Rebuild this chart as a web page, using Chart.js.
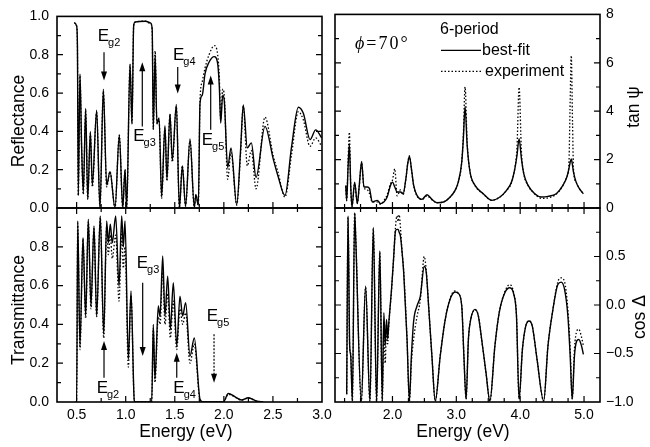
<!DOCTYPE html>
<html><head><meta charset="utf-8">
<script src="https://cdn.jsdelivr.net/npm/chart.js@4.4.1/dist/chart.umd.min.js"></script>
<style>
html,body{margin:0;padding:0;background:#fff;}
#wrap{position:relative;width:650px;height:447px;overflow:hidden;font-family:"Liberation Sans",Arial,sans-serif;color:#000;background:#fff;}
canvas{position:absolute;left:0;top:0;}
.t{position:absolute;font-size:17.5px;white-space:nowrap;line-height:1;}
.rot{transform:translate(-50%,-50%) rotate(-90deg);}
.hc{transform:translate(-50%,-50%);}
</style></head>
<body><div id="wrap">
<canvas id="c1" width="650" height="447"></canvas>
<canvas id="c2" width="650" height="447"></canvas>
<canvas id="c3" width="650" height="447"></canvas>
<canvas id="c4" width="650" height="447"></canvas>
<div class="t rot" style="left:18.5px;top:121px">Reflectance</div>
<div class="t rot" style="left:18.5px;top:310px">Transmittance</div>
<div class="t hc" style="left:186px;top:432px">Energy (eV)</div>
<div class="t hc" style="left:463px;top:432px">Energy (eV)</div>
<div class="t rot" style="left:634px;top:107px">tan ψ</div>
<div class="t rot" style="left:640px;top:317px">cos Δ</div>
</div>
<script>
// ---------- data ----------
const reflE   = [0.476,0.500,0.508,0.517,0.534,0.551,0.568,0.592,0.613,0.640,0.660,0.704,0.738,0.772,0.806,0.840,0.891,0.935,0.970,0.993,1.010,1.044,1.064,1.081,1.095,1.200,1.255,1.270,1.281,1.300,1.318,1.340,1.366,1.400,1.420,1.451,1.475,1.516,1.547,1.577,1.610,1.655,1.699,1.715,1.740,1.757,1.780,1.808,1.849,1.903,1.937,1.954,1.968,1.988,2.005,2.039,2.073,2.131,2.170,2.198,2.239,2.280,2.328,2.419,2.504,2.550,2.623,2.690,2.759,2.810,2.878,2.936,2.997];
const reflFit = [0.967,0.95,0.85,0.065,0.70,0.32,0.08,0.52,0.048,0.40,0.12,0.51,0.0,0.62,0.12,0.19,0.0,0.38,0.0,0.20,0.0,0.75,0.44,0.95,0.97,0.975,0.965,0.93,0.41,0.80,0.44,0.47,0.057,0.43,0.15,0.49,0.25,0.54,0.0,0.22,0.01,0.36,0.005,0.07,0.014,0.546,0.589,0.70,0.761,0.790,0.753,0.632,0.443,0.589,0.555,0.211,0.314,0.017,0.30,0.538,0.314,0.340,0.160,0.426,0.254,0.17,0.065,0.32,0.526,0.494,0.357,0.408,0.366];
const reflExp = [0.967,0.95,0.85,0.065,0.69,0.30,0.07,0.51,0.045,0.39,0.11,0.50,0.0,0.61,0.11,0.19,0.0,0.38,0.0,0.20,0.0,0.75,0.44,0.95,0.97,0.975,0.96,0.93,0.41,0.82,0.44,0.46,0.05,0.42,0.14,0.49,0.24,0.53,0.0,0.22,0.01,0.35,0.005,0.07,0.014,0.56,0.66,0.73,0.80,0.847,0.80,0.68,0.46,0.62,0.58,0.15,0.29,0.015,0.28,0.53,0.22,0.30,0.10,0.474,0.27,0.19,0.057,0.28,0.503,0.46,0.322,0.366,0.322];

const transE   = [0.490,0.500,0.511,0.534,0.565,0.592,0.619,0.646,0.677,0.704,0.741,0.776,0.806,0.823,0.843,0.863,0.898,0.932,0.959,0.976,0.993,1.027,1.054,1.088,1.100,1.265,1.281,1.298,1.332,1.350,1.377,1.400,1.428,1.455,1.485,1.520,1.553,1.580,1.611,1.655,1.699,1.757,1.790,1.995,2.045,2.114,2.180,2.249,2.330,2.400];
const transFit = [0,0,0.933,0.289,0.847,0.443,0.942,0.495,0.907,0.443,0.959,0.349,0.933,0.821,0.916,0.82,0.959,0.598,0.959,0.80,0.933,0.22,0.572,0.005,0,0,0.40,0.117,0.495,0.44,0.753,0.443,0.649,0.374,0.615,0.289,0.546,0.443,0.512,0.237,0.33,0.014,0,0,0.044,0.027,0.01,0.022,0.005,0];
const transExp = [0,0,0.92,0.27,0.84,0.43,0.93,0.48,0.90,0.44,0.95,0.33,0.90,0.76,0.86,0.74,0.86,0.52,0.88,0.69,0.80,0.18,0.55,0.005,0,0,0.38,0.10,0.44,0.40,0.68,0.40,0.56,0.33,0.52,0.27,0.48,0.40,0.46,0.20,0.30,0.01,0,0,0.04,0.025,0.01,0.02,0.005,0];

const tanE   = [1.268,1.283,1.304,1.325,1.346,1.366,1.408,1.450,1.480,1.517,1.553,1.606,1.640,1.684,1.762,1.814,1.865,1.917,1.969,2.000,2.036,2.073,2.125,2.166,2.210,2.239,2.265,2.297,2.332,2.384,2.462,2.540,2.618,2.696,2.800,2.903,2.980,3.030,3.085,3.110,3.137,3.170,3.215,3.293,3.422,3.553,3.682,3.786,3.864,3.916,3.950,3.983,4.020,4.056,4.124,4.228,4.332,4.436,4.565,4.669,4.731,4.763,4.780,4.800,4.820,4.835,4.876,4.927,4.990];
const tanFit = [0.935,0.317,1.62,2.65,0.935,0.041,1.07,0.18,0.935,1.924,0.866,0.866,0.80,0.247,0.316,0.18,0.247,0.454,0.935,1.07,0.866,0.66,0.66,0.59,1.21,1.83,2.14,1.62,0.935,0.52,0.357,0.55,0.357,0.22,0.247,0.454,0.73,1.07,1.90,2.86,4.2,2.58,1.48,0.935,0.59,0.316,0.454,0.73,1.07,1.62,2.17,2.86,2.03,1.42,0.935,0.59,0.454,0.48,0.59,0.935,1.28,1.62,1.85,2.03,1.75,1.48,1.07,0.80,0.59];
const tanExp = [0.90,0.30,1.9,3.13,0.9,0.05,1.0,0.2,0.9,1.85,0.85,0.75,0.60,0.25,0.25,0.15,0.3,0.55,1.0,1.15,1.62,0.5,0.75,0.55,1.2,1.85,2.15,1.6,0.93,0.5,0.35,0.5,0.34,0.22,0.25,0.45,0.72,1.05,1.9,3.0,5.0,2.7,1.5,0.93,0.58,0.32,0.45,0.72,1.05,1.65,2.5,4.99,2.3,1.42,0.93,0.58,0.40,0.42,0.57,0.93,1.3,1.8,4.0,6.3,3.5,1.6,1.07,0.80,0.59];

const cosE   = [1.283,1.304,1.330,1.346,1.372,1.408,1.425,1.512,1.579,1.647,1.700,1.751,1.802,1.840,1.865,1.886,1.907,1.925,1.943,1.985,2.020,2.047,2.070,2.088,2.105,2.125,2.150,2.176,2.228,2.265,2.296,2.332,2.384,2.436,2.498,2.530,2.566,2.618,2.670,2.748,2.826,2.903,2.980,3.030,3.085,3.120,3.153,3.189,3.225,3.293,3.345,3.397,3.465,3.526,3.604,3.671,3.760,3.838,3.900,3.942,3.983,4.035,4.087,4.139,4.190,4.264,4.368,4.435,4.513,4.590,4.643,4.695,4.747,4.783,4.815,4.850,4.886,4.918,4.960,4.990];
const cosFit = [-0.921,0.918,-0.42,-0.52,-0.99,0.95,0.68,-0.99,0.196,-0.99,0.80,-0.99,0.557,-0.99,-0.08,-0.42,-0.15,-0.35,-0.18,0.16,0.505,0.763,0.78,0.78,0.75,0.71,0.55,0.333,-0.35,-0.99,-0.53,-0.165,-0.01,0.09,0.40,0.33,-0.01,-0.53,-0.99,-0.526,-0.15,0.06,0.134,0.12,-0.01,-0.55,-0.97,-0.355,-0.15,-0.045,-0.114,-0.355,-0.70,-0.99,-0.423,-0.08,0.127,0.178,0.11,-0.114,-0.97,-0.457,-0.217,-0.165,-0.217,-0.56,-0.99,-0.423,-0.045,0.212,0.236,0.16,-0.114,-0.526,-0.97,-0.526,-0.37,-0.355,-0.42,-0.51];
const cosExp = [-0.92,0.90,-0.45,-0.50,-0.99,0.95,0.70,-0.99,0.18,-0.99,0.78,-0.99,0.54,-0.99,-0.25,-0.60,-0.20,-0.40,-0.20,0.15,0.50,0.80,0.92,0.86,0.93,0.80,0.55,0.35,-0.35,-0.99,-0.60,-0.35,-0.12,0.05,0.50,0.35,-0.01,-0.53,-0.99,-0.52,-0.15,0.07,0.145,0.12,-0.01,-0.55,-0.97,-0.36,-0.15,-0.05,-0.11,-0.36,-0.70,-0.99,-0.42,-0.08,0.14,0.21,0.12,-0.11,-0.97,-0.46,-0.22,-0.165,-0.22,-0.56,-0.99,-0.42,-0.045,0.24,0.28,0.24,-0.05,-0.45,-0.97,-0.45,-0.27,-0.25,-0.33,-0.42];

// tick labels / tick marks
const leftXLabels  = [0.5,1.0,1.5,2.0,2.5,3.0];
const leftXTicks   = [0.5,0.75,1.0,1.25,1.5,1.75,2.0,2.25,2.5,2.75];
const rightXLabels = [2,3,4,5];
const rightXTicks  = [1.25,1.5,1.75,2,2.25,2.5,2.75,3,3.25,3.5,3.75,4,4.25,4.5,4.75,5];
const reflYLabels  = [0,0.2,0.4,0.6,0.8,1.0];
const transYLabels = [0,0.2,0.4,0.6,0.8];
const fracYTicks   = [0.1,0.2,0.3,0.4,0.5,0.6,0.7,0.8,0.9];
const tanYLabels   = [0,2,4,6,8];
const tanYTicks    = [1,2,3,4,5,6,7];
const cosYLabels   = [-1,-0.5,0,0.5];
const cosYTicks    = [-0.75,-0.5,-0.25,0,0.25,0.5,0.75];

// annotations (data coordinates)
const reflMarks = [
  {sub:'g2', tx:0.715, ty:0.873, ax:0.779, a0:0.813, a1:0.665},
  {sub:'g3', tx:1.077, ty:0.351, ax:1.169, a0:0.426, a1:0.761},
  {sub:'g4', tx:1.482, ty:0.770, ax:1.530, a0:0.736, a1:0.598},
  {sub:'g5', tx:1.774, ty:0.331, ax:1.866, a0:0.409, a1:0.692}
];
const transMarks = [
  {sub:'g2', tx:0.704, ty:0.048, ax:0.779, a0:0.125, a1:0.314},
  {sub:'g3', tx:1.112, ty:0.692, ax:1.173, a0:0.615, a1:0.237},
  {sub:'g4', tx:1.485, ty:0.048, ax:1.520, a0:0.125, a1:0.254},
  {sub:'g5', tx:1.825, ty:0.418, ax:1.900, a0:0.349, a1:0.099, dash:true}
];

// ---------- drawing ----------
const FONT = '"Liberation Sans", Arial, sans-serif';
Chart.defaults.font.family = FONT;
Chart.defaults.color = '#000';
function pts(xs, ys){ return xs.map((x,i)=>({x:x, y:ys[i]})); }
function fmt1(v){ return (v<0?'\u2212':'') + Math.abs(v).toFixed(1); }
function fmt0(v){ return String(v); }

function framePlugin(o){
  return {id:'frame', afterDraw(chart){
    const ctx=chart.ctx, a=chart.chartArea, xs=chart.scales.x, ys=chart.scales.y;
    ctx.save(); ctx.strokeStyle='#000'; ctx.lineWidth=1.2; ctx.beginPath();
    o.xTicks.forEach(v=>{
      const px=xs.getPixelForValue(v), L=o.xLabels.includes(v)?6:4;
      ctx.moveTo(px,a.bottom); ctx.lineTo(px,a.bottom-L);
      if(o.tickTop){ ctx.moveTo(px,a.top); ctx.lineTo(px,a.top+L); }
    });
    o.yTicks.forEach(v=>{
      const py=ys.getPixelForValue(v), L=o.yLabels.includes(v)?6:4;
      ctx.moveTo(a.left,py); ctx.lineTo(a.left+L,py);
      ctx.moveTo(a.right,py); ctx.lineTo(a.right-L,py);
    });
    ctx.stroke();
    ctx.lineWidth=1.6; ctx.strokeRect(a.left,a.top,a.right-a.left,a.bottom-a.top);
    ctx.restore();
  }};
}
function marksPlugin(marks){
  return {id:'marks', afterDatasetsDraw(chart){
    const ctx=chart.ctx, xs=chart.scales.x, ys=chart.scales.y;
    ctx.save(); ctx.fillStyle='#000'; ctx.strokeStyle='#000'; ctx.lineWidth=1.2;
    ctx.textAlign='left'; ctx.textBaseline='alphabetic';
    marks.forEach(m=>{
      const tx=xs.getPixelForValue(m.tx), ty=ys.getPixelForValue(m.ty);
      ctx.font='17px '+FONT; ctx.fillText('E',tx,ty);
      const w=ctx.measureText('E').width;
      ctx.font='11px '+FONT; ctx.fillText(m.sub,tx+w-1,ty+5);
      const ax=xs.getPixelForValue(m.ax), y0=ys.getPixelForValue(m.a0), y1=ys.getPixelForValue(m.a1);
      const dir=Math.sign(y1-y0);
      ctx.setLineDash(m.dash?[2,1.5]:[]);
      ctx.beginPath(); ctx.moveTo(ax,y0); ctx.lineTo(ax,y1-dir*7); ctx.stroke();
      ctx.setLineDash([]);
      ctx.beginPath(); ctx.moveTo(ax,y1); ctx.lineTo(ax-3,y1-dir*9); ctx.lineTo(ax+3,y1-dir*9); ctx.closePath(); ctx.fill();
    });
    ctx.restore();
  }};
}
const legendPlugin = {id:'leg', afterDraw(chart){
  const ctx=chart.ctx, a=chart.chartArea;
  ctx.save(); ctx.fillStyle='#000'; ctx.strokeStyle='#000';
  ctx.font='16px '+FONT; ctx.textBaseline='middle'; ctx.textAlign='left';
  ctx.fillText('6-period', a.left+105, a.top+15);
  ctx.lineWidth=1.4; ctx.beginPath(); ctx.moveTo(a.left+106,a.top+36); ctx.lineTo(a.left+146,a.top+36); ctx.stroke();
  ctx.fillText('best-fit', a.left+147, a.top+36);
  ctx.setLineDash([1.5,2]); ctx.lineWidth=1.3; ctx.beginPath(); ctx.moveTo(a.left+106,a.top+57); ctx.lineTo(a.left+146,a.top+57); ctx.stroke(); ctx.setLineDash([]);
  ctx.fillText('experiment', a.left+150, a.top+57);
  ctx.font='italic 18px "Liberation Serif", "DejaVu Serif", serif'; ctx.fillText('\u03D5', a.left+20, a.top+30);
  const w=ctx.measureText('\u03D5').width;
  ctx.font='18px "Liberation Serif", serif';
  try{ ctx.letterSpacing='2px'; }catch(e){}
  ctx.fillText('=70\u00B0', a.left+22+w, a.top+30);
  ctx.restore();
}};

function build(id, o){
  const plugins=[framePlugin(o)];
  if(o.marks) plugins.push(marksPlugin(o.marks));
  if(o.legend) plugins.push(legendPlugin);
  return new Chart(document.getElementById(id), {
    type:'line',
    data:{datasets:[
      {data:pts(o.E,o.exp), borderColor:'#000', borderWidth:1.3, borderDash:[1.5,2], pointRadius:0, cubicInterpolationMode:'monotone', fill:false},
      {data:pts(o.E,o.fit), borderColor:'#000', borderWidth:1.4, pointRadius:0, cubicInterpolationMode:'monotone', fill:false}
    ]},
    options:{
      responsive:false, animation:false, devicePixelRatio:1,
      layout:{padding:o.pad},
      plugins:{legend:{display:false}, tooltip:{enabled:false}},
      scales:{
        x:{type:'linear', min:o.xmin, max:o.xmax,
           afterBuildTicks:s=>{ s.ticks=o.xLabels.map(v=>({value:v})); },
           ticks:{display:o.showX, autoSkip:false, maxRotation:0, padding:5, color:'#000', font:{family:FONT,size:14}, callback:v=>fmt1(v)},
           grid:{display:false, drawTicks:false}, border:{display:false},
           afterFit:s=>{ s.height=o.showX?45:0; }},
        y:{type:'linear', position:o.yPos, min:o.ymin, max:o.ymax,
           afterBuildTicks:s=>{ s.ticks=o.yLabels.map(v=>({value:v})); },
           ticks:{autoSkip:false, padding:o.yPos==='left'?8:6, color:'#000', font:{family:FONT,size:14}, callback:o.yFmt},
           grid:{display:false, drawTicks:false}, border:{display:false},
           afterFit:s=>{ s.width=o.yPos==='left'?57:50; }}
      }
    },
    plugins:plugins
  });
}

build('c1',{E:reflE, fit:reflFit, exp:reflExp, xmin:0.3, xmax:3.0, ymin:0, ymax:1, yPos:'left',
  pad:{top:14,left:0,right:328,bottom:239}, showX:false, xLabels:leftXLabels, xTicks:leftXTicks,
  yLabels:reflYLabels, yTicks:fracYTicks, yFmt:fmt1, marks:reflMarks});
build('c2',{E:transE, fit:transFit, exp:transExp, xmin:0.3, xmax:3.0, ymin:0, ymax:1, yPos:'left',
  pad:{top:208,left:0,right:328,bottom:0}, showX:true, tickTop:true, xLabels:leftXLabels, xTicks:leftXTicks,
  yLabels:transYLabels, yTicks:fracYTicks, yFmt:fmt1, marks:transMarks});
build('c3',{E:tanE, fit:tanFit, exp:tanExp, xmin:1.1, xmax:5.25, ymin:0, ymax:8, yPos:'right',
  pad:{top:14,left:335,right:0,bottom:239}, showX:false, xLabels:rightXLabels, xTicks:rightXTicks,
  yLabels:tanYLabels, yTicks:tanYTicks, yFmt:fmt0, legend:true});
build('c4',{E:cosE, fit:cosFit, exp:cosExp, xmin:1.1, xmax:5.25, ymin:-1, ymax:1, yPos:'right',
  pad:{top:208,left:335,right:0,bottom:0}, showX:true, tickTop:true, xLabels:rightXLabels, xTicks:rightXTicks,
  yLabels:cosYLabels, yTicks:cosYTicks, yFmt:fmt1});
</script>
</body></html>
